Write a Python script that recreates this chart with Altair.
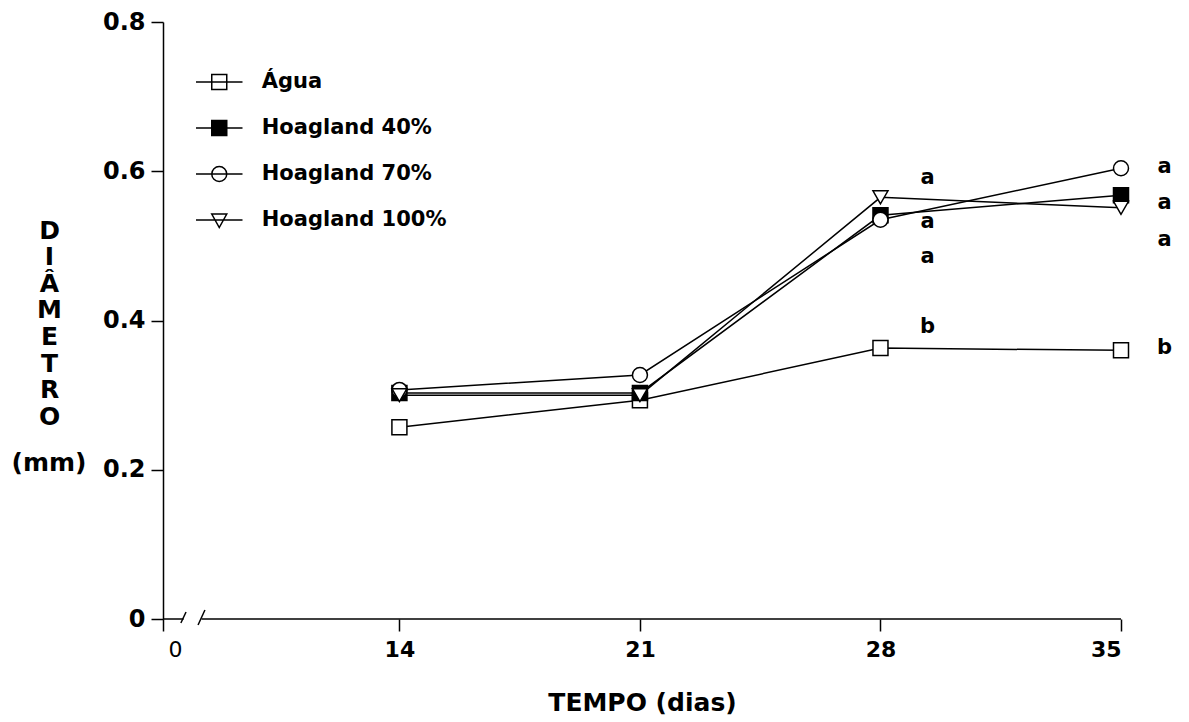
import altair as alt
import pandas as pd

# Stem diameter (mm) over time for each nutrient solution
dias = [14, 21, 28, 35]
series = ["Água", "Hoagland 40%", "Hoagland 70%", "Hoagland 100%"]
agua = [0.257, 0.293, 0.363, 0.360]
hoag40 = [0.303, 0.303, 0.541, 0.568]
hoag70 = [0.307, 0.327, 0.535, 0.604]
hoag100 = [0.300, 0.300, 0.565, 0.551]

# Significance letters beside the last two sampling dates
letras = ["a", "a", "a", "b", "a", "a", "a", "b"]
letras_dia = [29.37, 29.37, 29.37, 29.37, 36.27, 36.27, 36.27, 36.27]
letras_y = [0.591, 0.532, 0.485, 0.391, 0.606, 0.557, 0.508, 0.363]

x_ticks = [14, 21, 28, 35]
y_ticks = [0, 0.2, 0.4, 0.6, 0.8]

# The time axis is broken: its left end stands for day 0
X_ORIGIN = 7.12
# Axis baseline pieces and the two break slashes (x, y, x2, y2)
eixo_x0 = [X_ORIGIN, 8.24, 7.64, 8.14]
eixo_y0 = [0, 0, -0.0054, -0.008]
eixo_x1 = [7.72, 35, 7.79, 8.34]
eixo_y1 = [0, 0, 0.0094, 0.012]

shapes_plot = ["square", "square", "circle", "triangle-down"]
fills = ["white", "black", "white", "white"]
strokes = ["black", "black", "black", "black"]
# Legend symbols: marker with a short line running through it
shapes_legend = [
    "M-3.1,0H3.1M-1,-1H1V1H-1Z",
    "M-3.1,0H3.1M-1,-1H1V1H-1Z",
    "M-3.1,0H3.1M-1,0A1,1,0,1,0,1,0A1,1,0,1,0,-1,0Z",
    "M-3.1,0H3.1M-1,-0.8H1L0,1Z",
]

FONT = "DejaVu Sans"

df = pd.DataFrame({
    "serie": [s for s in series for _ in dias],
    "dia": dias * len(series),
    "diametro": agua + hoag40 + hoag70 + hoag100,
})
df["legenda"] = df["serie"]

letras_df = pd.DataFrame({"letra": letras, "dia": letras_dia, "diametro": letras_y})
eixo_df = pd.DataFrame({"dia": eixo_x0, "diametro": eixo_y0, "dia2": eixo_x1, "diametro2": eixo_y1})

x_axis = alt.Axis(
    values=[X_ORIGIN] + x_ticks,
    labelExpr="datum.value < 10 ? '0' : datum.label",
    labelFontWeight={"condition": {"test": "datum.value < 10", "value": "normal"}, "value": "bold"},
    labelOffset={"condition": {"test": "datum.value < 10", "value": 5}, "value": 0},
    domain=False,
    grid=False,
    tickSize=12,
    tickWidth=1.5,
    tickColor="black",
    labelFont=FONT,
    labelFontSize=22,
    labelColor="black",
    labelPadding=8,
    title="TEMPO (dias)",
    titleFont=FONT,
    titleFontSize=25,
    titleFontWeight="bold",
    titleColor="black",
    titlePadding=30,
)

# Vertical title: the word stacked letter by letter, unit set apart below it
y_axis = alt.Axis(
    values=y_ticks,
    labelExpr="datum.value == 0 ? '0' : format(datum.value, '.1f')",
    domain=True,
    domainColor="black",
    domainWidth=1.5,
    grid=False,
    tickSize=12,
    tickWidth=1.5,
    tickColor="black",
    labelFont=FONT,
    labelFontSize=24,
    labelFontWeight="bold",
    labelColor="black",
    labelPadding=6,
    title=["D", "I", "Â", "M", "E", "T", "R", "O"],
    titleFont=FONT,
    titleFontSize=25,
    titleFontWeight="bold",
    titleColor="black",
    titleAngle=0,
    titleAlign="center",
    titleBaseline="top",
    titleLineHeight=26.6,
    titleX=-114,
    titleY=196,
)

x_enc = alt.X("dia:Q", scale=alt.Scale(domain=[X_ORIGIN, 35], nice=False, zero=False), axis=x_axis)
y_enc = alt.Y("diametro:Q", scale=alt.Scale(domain=[0, 0.8], nice=False), axis=y_axis)

eixo = alt.Chart(eixo_df).mark_rule(color="black", strokeWidth=1.5).encode(
    x=x_enc, y=y_enc, x2="dia2:Q", y2="diametro2:Q"
)

linhas = alt.Chart(df).mark_line(color="black", strokeWidth=1.5).encode(
    x=x_enc, y=y_enc, detail="serie:N"
)

pontos = alt.Chart(df).mark_point(
    size=225, stroke="black", strokeWidth=1.5, opacity=1, fillOpacity=1
).encode(
    x=x_enc,
    y=y_enc,
    shape=alt.Shape("serie:N", scale=alt.Scale(domain=series, range=shapes_plot), legend=None),
    fill=alt.Fill("serie:N", scale=alt.Scale(domain=series, range=fills), legend=None),
)

legenda = alt.Legend(
    title=None,
    orient="none",
    legendX=45.75,
    legendY=49.5,
    padding=0,
    labelFont=FONT,
    labelFontSize=21,
    labelFontWeight="bold",
    labelColor="black",
    labelOffset=32,
    labelLimit=400,
    rowPadding=24,
    symbolSize=225,
    symbolStrokeWidth=1.5,
    symbolStrokeColor="black",
    symbolOpacity=1,
)

chave = alt.Chart(df).mark_point(size=225, strokeWidth=1.5, opacity=0).encode(
    x=x_enc,
    y=y_enc,
    shape=alt.Shape("legenda:N", scale=alt.Scale(domain=series, range=shapes_legend), legend=legenda),
    fill=alt.Fill("legenda:N", scale=alt.Scale(domain=series, range=fills), legend=legenda),
    stroke=alt.Stroke("legenda:N", scale=alt.Scale(domain=series, range=strokes), legend=legenda),
)

rotulos = alt.Chart(letras_df).mark_text(
    font=FONT, fontSize=21, fontWeight="bold", color="black", align="center", baseline="middle"
).encode(x=x_enc, y=y_enc, text="letra:N")

# Unit of the vertical title, left of the 0.2 tick label
unidade = alt.Chart(pd.DataFrame({"txt": ["(mm)"]})).mark_text(
    font=FONT, fontSize=25, fontWeight="bold", color="black", align="center", baseline="middle"
).encode(x=alt.value(-114), y=alt.value(441), text="txt:N")

chart = (
    alt.layer(eixo, linhas, pontos, rotulos, unidade, chave)
    .resolve_scale(shape="independent", fill="independent", stroke="independent")
    .properties(
        width=958,
        height=597,
        autosize=alt.AutoSizeParams(type="none"),
        padding={"left": 163, "top": 22, "right": 68, "bottom": 103},
        background="white",
    )
    .configure_view(stroke=None)
)

chart.save("out.html", embed_options={"renderer": "svg", "actions": False})
